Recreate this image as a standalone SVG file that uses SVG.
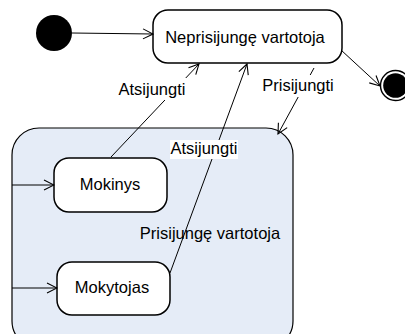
<svg xmlns="http://www.w3.org/2000/svg" width="405" height="334" viewBox="0 0 405 334">
  <defs>
    <marker id="open" viewBox="0 0 12 12" refX="11" refY="6" markerWidth="12" markerHeight="12" markerUnits="userSpaceOnUse" orient="auto">
      <path d="M1,1 L11,6 L1,11" fill="none" stroke="#000" stroke-width="1.1"/>
    </marker>
  </defs>
  <style>
    .state { fill: #fff; stroke: #000; stroke-width: 1.5; }
    .composite { fill: #e5ecf7; stroke: #000; stroke-width: 1.2; }
    .lbl { font-family: "Liberation Sans", Arial, sans-serif; font-size: 16.5px; fill: #000; text-anchor: middle; }
    .edge { fill: none; stroke: #000; stroke-width: 1; marker-end: url(#open); }
    .bg { fill: #fff; }
  </style>

  <rect width="405" height="334" fill="#fff"/>

  <!-- composite state -->
  <g id="prisijunge">
    <rect class="composite" x="12" y="128" width="281" height="220" rx="27" ry="27"/>
    <text class="lbl" x="210" y="239">Prisijungę vartotoja</text>
  </g>

  <g id="initial">
    <circle cx="54" cy="33" r="18" fill="#000"/>
  </g>

  <g id="final">
    <circle cx="395.5" cy="85.5" r="15" fill="#fff" stroke="#000" stroke-width="1.4"/>
    <circle cx="395.5" cy="85.5" r="12.3" fill="#000"/>
  </g>

  <g id="neprisijunge">
    <rect class="state" x="153" y="10" width="189" height="53" rx="15" ry="15"/>
    <text class="lbl" x="245" y="43">Neprisijungę vartotoja</text>
  </g>

  <g id="mokinys">
    <rect class="state" x="54" y="158" width="113" height="54" rx="15" ry="15"/>
    <text class="lbl" x="110" y="190">Mokinys</text>
  </g>

  <g id="mokytojas">
    <rect class="state" x="57" y="262" width="113" height="53" rx="15" ry="15"/>
    <text class="lbl" x="112" y="293">Mokytojas</text>
  </g>

  <!-- transitions -->
  <g id="connectors">
    <line class="edge" x1="72" y1="33" x2="153" y2="34"/>
    <line class="edge" x1="341" y1="50" x2="380" y2="86"/>
    <line class="edge" x1="12" y1="185" x2="54" y2="185"/>
    <line class="edge" x1="12" y1="288" x2="57" y2="288"/>
    <line class="edge" x1="111" y1="157" x2="199" y2="64"/>
    <line class="edge" x1="170" y1="273" x2="247" y2="64"/>
    <line class="edge" x1="314" y1="68" x2="278" y2="134"/>

    <rect class="bg" x="116" y="78" width="72" height="22"/>
    <text class="lbl" x="152" y="95">Atsijungti</text>

    <rect class="bg" x="170" y="140" width="68" height="19"/>
    <text class="lbl" x="204" y="154">Atsijungti</text>

    <rect class="bg" x="262" y="75" width="72" height="22"/>
    <text class="lbl" x="298" y="91">Prisijungti</text>
  </g>
</svg>
